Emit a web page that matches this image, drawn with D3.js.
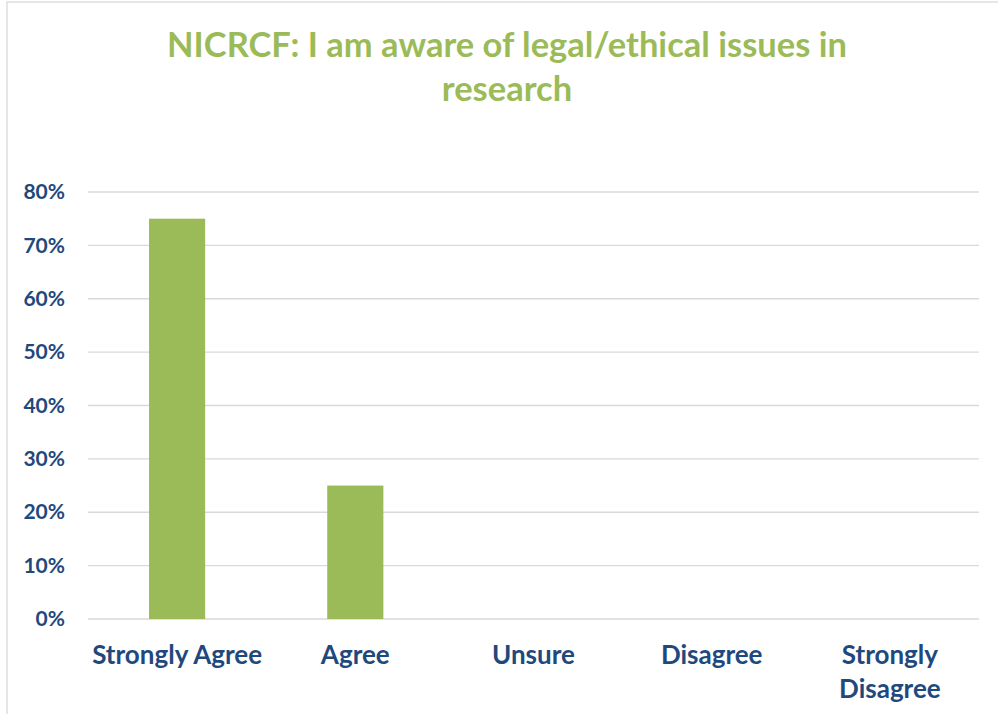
<!DOCTYPE html>
<html><head><meta charset="utf-8">
<script src="https://cdn.jsdelivr.net/npm/d3@7"></script>
<style>body{margin:0;background:#fff}svg{display:block}text{font-family:Lato,"Open Sans",sans-serif;font-weight:bold}</style>
</head><body><svg id="c" width="998" height="714"></svg>
<script>
const categories = ["Strongly Agree", "Agree", "Unsure", "Disagree", "Strongly Disagree"];
const values = [0.75, 0.25, 0, 0, 0];
const yTicks = [0, 0.1, 0.2, 0.3, 0.4, 0.5, 0.6, 0.7, 0.8];
const titleLines = ["NICRCF: I am aware of legal/ethical issues in", "research"];

const svg = d3.select("#c");
const green = "#9BBB59", blue = "#1F497D", grid = "#D9D9D9";

// chart border
svg.append("rect").attr("x", 7).attr("y", 2).attr("width", 1100).attr("height", 800)
  .attr("fill", "#fff").attr("stroke", grid).attr("stroke-width", 1.3);

const m = {left: 88, right: 979, top: 192, bottom: 619};
const x = d3.scaleBand().domain(categories).range([m.left, m.right]).paddingInner(0.685).paddingOuter(0.3425);
const y = d3.scaleLinear().domain([0, 0.8]).range([m.bottom, m.top]);

// gridlines
svg.append("g").selectAll("line").data(yTicks).join("line")
  .attr("x1", m.left).attr("x2", m.right)
  .attr("y1", d => y(d)).attr("y2", d => y(d))
  .attr("stroke", grid).attr("stroke-width", 1.3);

// y axis labels
const yAxis = d3.axisLeft(y).tickValues(yTicks).tickFormat(d3.format(".0%")).tickSize(0).tickPadding(23);
const ya = svg.append("g").attr("transform", `translate(${m.left},0)`).call(yAxis);
ya.select(".domain").remove();
ya.selectAll("text").attr("fill", blue).attr("font-size", 21).attr("font-family", "Lato,'Open Sans',sans-serif").attr("font-weight", "bold");

// bars
svg.append("g").selectAll("rect").data(values).join("rect")
  .attr("x", (d, i) => x(categories[i]))
  .attr("width", x.bandwidth())
  .attr("y", d => y(d))
  .attr("height", d => y(0) - y(d))
  .attr("fill", green);

// x labels
const xAxis = d3.axisBottom(x).tickSize(0).tickPadding(0);
const xa = svg.append("g").attr("transform", `translate(0,${m.bottom})`).call(xAxis);
xa.select(".domain").remove();
xa.selectAll("text").each(function(d) {
  const t = d3.select(this);
  t.text(null).attr("fill", blue).attr("font-size", 26).attr("font-family", "Lato,'Open Sans',sans-serif").attr("font-weight", "bold").attr("dy", null).attr("y", 0);
  const lines = d === "Strongly Disagree" ? ["Strongly", "Disagree"] : [d];
  lines.forEach((l, k) => t.append("tspan").attr("x", 0).attr("y", 45 + k * 34).text(l));
});

// title
svg.append("g").selectAll("text").data(titleLines).join("text")
  .attr("x", 507).attr("y", (d, i) => 57 + i * 44)
  .attr("text-anchor", "middle").attr("fill", green).attr("font-size", 34.5)
  .text(d => d);
</script></body></html>
